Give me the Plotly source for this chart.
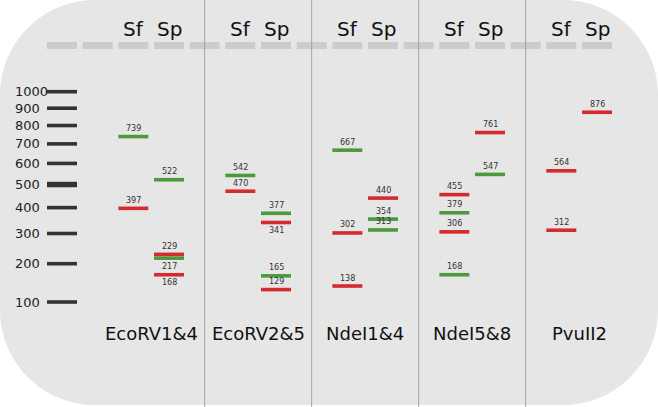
import plotly.graph_objects as go

# ---------------- data ----------------
lane_names = ["EcoRV1&4", "EcoRV2&5", "NdeI1&4", "NdeI5&8", "PvuII2"]
ladder_bp = [1000, 900, 800, 700, 600, 500, 400, 300, 200, 100]
ladder_labels = ["1000", "900", "800", "700", "600", "500", "400", "300", "200", "100"]

sf_green = [[739], [542], [667], [379, 168], []]
sf_red = [[397], [470], [302, 138], [455, 306], [564, 312]]
sp_green = [[522, 217], [377, 165], [354, 313], [547], []]
sp_red = [[229, 168], [341, 129], [440], [761], [876]]
labels_below = [(0, "Sp", 217), (0, "Sp", 168), (1, "Sp", 341)]

# ---------------- style ----------------
W, H = 658, 407
GREEN = "#4c9a3c"
RED = "#d52a2e"
LADDER = "#333333"
BG = "#e6e6e6"
WELL = "#cccccc"
SEP = "#a3a3a3"
FONT = "DejaVu Sans"
P = 0.55  # migration scale exponent


def tr(bp):
    return bp ** P


# axis geometry (pixels -> axis units)
pitch = 35.667
x0 = 62.0
xr = [(0 - x0) / pitch, (W - x0) / pitch]
s = (302 - 91.7) / (tr(1000) - tr(100))
yr = [tr(100) - (H - 302) / s, tr(100) + 302 / s]

half = 0.42


def lane_well(lane, kind):
    return 2 + 3 * lane + (0 if kind == "Sf" else 1)


fig = go.Figure()


def band_trace(groups, kind, color, width):
    xs, ys = [], []
    for lane, vals in enumerate(groups):
        k = lane_well(lane, kind)
        for v in vals:
            xs += [k - half, k + half, None]
            ys += [tr(v), tr(v), None]
    fig.add_trace(go.Scatter(x=xs, y=ys, mode="lines",
                             line=dict(color=color, width=width),
                             hoverinfo="skip", showlegend=False))


band_trace(sf_green, "Sf", GREEN, 3.6)
band_trace(sp_green, "Sp", GREEN, 3.6)
band_trace(sf_red, "Sf", RED, 3.6)
band_trace(sp_red, "Sp", RED, 3.6)

# ladder
lx, ly = [], []
for v in ladder_bp:
    if v == 500:
        continue
    lx += [0 - half, 0 + half, None]
    ly += [tr(v), tr(v), None]
fig.add_trace(go.Scatter(x=lx, y=ly, mode="lines",
                         line=dict(color=LADDER, width=3.6),
                         hoverinfo="skip", showlegend=False))
fig.add_trace(go.Scatter(x=[-half, half], y=[tr(500), tr(500)], mode="lines",
                         line=dict(color=LADDER, width=5.5),
                         hoverinfo="skip", showlegend=False))

annotations = []
# band labels
for kind, groups_list in (("Sf", [sf_green, sf_red]), ("Sp", [sp_green, sp_red])):
    for groups in groups_list:
        for lane, vals in enumerate(groups):
            k = lane_well(lane, kind)
            for v in vals:
                below = (lane, kind, v) in labels_below
                annotations.append(dict(
                    x=k, y=tr(v), xref="x", yref="y", text=str(v),
                    showarrow=False, xanchor="center", yanchor="middle",
                    yshift=-8 if below else 8,
                    font=dict(family=FONT, size=8, color="#333333")))

# ladder labels
for v, lab in zip(ladder_bp, ladder_labels):
    annotations.append(dict(
        x=12.5 / W, y=tr(v), xref="paper", yref="y", text=lab,
        showarrow=False, xanchor="left", yanchor="middle",
        font=dict(family=FONT, size=13, color="#222222")))

# Sf / Sp headers and lane names
for lane, name in enumerate(lane_names):
    for kind in ("Sf", "Sp"):
        annotations.append(dict(
            x=lane_well(lane, kind), y=1 - 29 / H, xref="x", yref="paper",
            text=kind, showarrow=False, xanchor="center", yanchor="middle",
            font=dict(family=FONT, size=20, color="#111111")))
    annotations.append(dict(
        x=lane_well(lane, "Sf") + 0.5, y=1 - 333 / H, xref="x", yref="paper",
        text=name, showarrow=False, xanchor="center", yanchor="middle",
        font=dict(family=FONT, size=18, color="#111111")))

# shapes: rounded background, wells, separators
R = 95.0
k = 0.5523 * R
bx0, by0, bx1, by1 = 0.0, 0.0, 658.0, 405.0


def pt(px, py):
    return f"{px / W:.5f},{1 - py / H:.5f}"


path = (
    f"M {pt(bx0 + R, by0)} L {pt(bx1 - R, by0)} "
    f"C {pt(bx1 - R + k, by0)} {pt(bx1, by0 + R - k)} {pt(bx1, by0 + R)} "
    f"L {pt(bx1, by1 - R)} "
    f"C {pt(bx1, by1 - R + k)} {pt(bx1 - R + k, by1)} {pt(bx1 - R, by1)} "
    f"L {pt(bx0 + R, by1)} "
    f"C {pt(bx0 + R - k, by1)} {pt(bx0, by1 - R + k)} {pt(bx0, by1 - R)} "
    f"L {pt(bx0, by0 + R)} "
    f"C {pt(bx0, by0 + R - k)} {pt(bx0 + R - k, by0)} {pt(bx0 + R, by0)} Z"
)
shapes = [dict(type="path", path=path, xref="paper", yref="paper",
               fillcolor=BG, line=dict(width=0), layer="below")]
for w in range(16):
    shapes.append(dict(type="rect", xref="x", yref="paper",
                       x0=w - half, x1=w + half,
                       y0=1 - 49 / H, y1=1 - 42 / H,
                       fillcolor=WELL, line=dict(width=0), layer="below"))
for w in (4, 7, 10, 13):
    shapes.append(dict(type="line", xref="x", yref="paper",
                       x0=w, x1=w, y0=0, y1=1,
                       line=dict(color=SEP, width=1), layer="below"))

fig.update_layout(
    width=W, height=H,
    margin=dict(l=0, r=0, t=0, b=0),
    paper_bgcolor="white", plot_bgcolor="rgba(0,0,0,0)",
    xaxis=dict(range=xr, visible=False, fixedrange=True),
    yaxis=dict(range=yr, visible=False, fixedrange=True),
    shapes=shapes, annotations=annotations,
    showlegend=False,
)

fig.write_html(
    "out.html",
    config={"displayModeBar": False},
    post_script="document.body.style.margin='0';document.body.style.overflow='hidden';",
)
